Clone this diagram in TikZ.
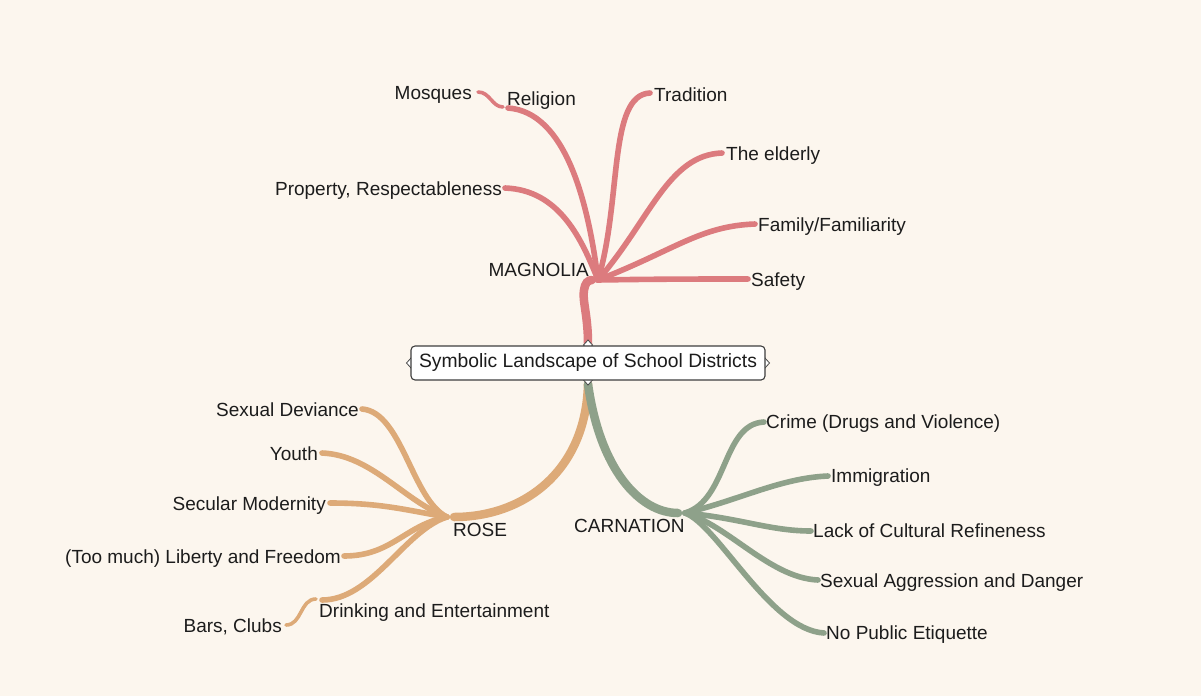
\documentclass[tikz,border=0pt]{standalone}
\usepackage{fontspec}
\setmainfont{Liberation Sans}
\begin{document}
\definecolor{paper}{HTML}{FCF6EE}
\definecolor{magnolia}{HTML}{DC7B7E}
\definecolor{rosetan}{HTML}{DDAA78}
\definecolor{carnation}{HTML}{8EA18A}
\definecolor{ink}{HTML}{1C1C1C}
\begin{tikzpicture}[x=1pt,y=-1pt,
  lbl/.style={inner sep=0pt,text height=13.6pt,text depth=0pt,text=ink,
    font=\fontsize{19}{22}\selectfont},
  trunk/.style={line width=8.5pt,line cap=round},
  twig/.style={line width=5.6pt,line cap=round},
  subtwig/.style={line width=3.6pt,line cap=round},
  handle/.style={draw=ink!80,fill=white,line width=0.8pt},
  rootbox/.style={draw=ink!85,fill=white,rounded corners=4pt,line width=1.1pt,
    minimum width=354pt,minimum height=34pt,inner sep=0pt,text=ink,
    font=\fontsize{19.3}{22}\selectfont}]
\useasboundingbox (0,0) rectangle (1201,696);
\fill[paper] (0,0) rectangle (1201,696);

% ---------- junction and end points ----------
\coordinate (rootTop) at (588,344);
\coordinate (rootBot) at (588,384);
\coordinate (mIn) at (592,280);
\coordinate (mJ) at (598,280);
\coordinate (rIn) at (454,517);
\coordinate (rJ) at (447,517);
\coordinate (cIn) at (678,513);
\coordinate (cJ) at (685,513);

\coordinate (relE) at (508,108);
\coordinate (mosS) at (503,107);
\coordinate (mosE) at (478,92);
\coordinate (proE) at (505,188);
\coordinate (traE) at (650,93);
\coordinate (eldE) at (722,153);
\coordinate (famE) at (755,224);
\coordinate (safE) at (748,279);

\coordinate (devE) at (362,409);
\coordinate (youE) at (322,453);
\coordinate (secE) at (330,503);
\coordinate (libE) at (344,556);
\coordinate (driE) at (322,600);
\coordinate (barS) at (316,599);
\coordinate (barE) at (286,625);

\coordinate (criE) at (764,422);
\coordinate (immE) at (828,476);
\coordinate (lacE) at (811,531);
\coordinate (sexE) at (818,580);
\coordinate (etiE) at (824,633);

% ---------- MAGNOLIA ----------
\begin{scope}[draw=magnolia]
\draw[trunk] (rootTop) .. controls (588,315) and (582,300) .. (584,290)
  .. controls (585,283) and (588,280) .. (mIn);
\draw[twig] (mJ) .. controls (588,200) and (565,112) .. (relE);
\draw[subtwig] (mosS) .. controls (492,107) and (490,92) .. (mosE);
\draw[twig] (mJ) .. controls (582,240) and (560,190) .. (proE);
\draw[twig] (mJ) .. controls (622,200) and (608,95) .. (traE);
\draw[twig] (mJ) .. controls (650,220) and (668,155) .. (eldE);
\draw[twig] (mJ) .. controls (675,250) and (700,226) .. (famE);
\draw[twig] (mJ) .. controls (660,279) and (700,279) .. (safE);
\end{scope}

% ---------- ROSE ----------
\begin{scope}[draw=rosetan]
\draw[trunk] (rootBot) .. controls (586,470) and (525,517) .. (rIn);
\draw[twig] (rJ) .. controls (412,500) and (402,412) .. (devE);
\draw[twig] (rJ) .. controls (405,502) and (372,455) .. (youE);
\draw[twig] (rJ) .. controls (405,510) and (382,503) .. (secE);
\draw[twig] (rJ) .. controls (405,525) and (392,556) .. (libE);
\draw[twig] (rJ) .. controls (405,530) and (372,600) .. (driE);
\draw[subtwig] (barS) .. controls (300,599) and (302,625) .. (barE);
\end{scope}

% ---------- CARNATION ----------
\begin{scope}[draw=carnation]
\draw[trunk] (rootBot) .. controls (600,470) and (640,513) .. (cIn);
\draw[twig] (cJ) .. controls (728,500) and (722,424) .. (criE);
\draw[twig] (cJ) .. controls (740,500) and (780,478) .. (immE);
\draw[twig] (cJ) .. controls (740,518) and (770,531) .. (lacE);
\draw[twig] (cJ) .. controls (728,525) and (770,578) .. (sexE);
\draw[twig] (cJ) .. controls (718,525) and (770,630) .. (etiE);
\end{scope}

% ---------- central topic ----------
\foreach \p in {(588,345),(588,380),(411,363),(765,363)}
  \draw[handle] \p ++(-4.5,0) -- ++(4.5,-5) -- ++(4.5,5) -- ++(-4.5,5) -- cycle;
\node[rootbox] (root) at (588,363) {Symbolic Landscape of School Districts};

% ---------- labels ----------
\node[lbl,anchor=east] (magnolia) at (589,270) {MAGNOLIA};
\node[lbl,anchor=west] (rose) at (453,530) {ROSE};
\node[lbl,anchor=west] (carn) at (574,526) {CARNATION};

\node[lbl,anchor=east] (mosques) at (472,93) {Mosques};
\node[lbl,anchor=west] (religion) at (507,99) {Religion};
\node[lbl,anchor=east] (property) at (502,189) {Property, Respectableness};
\node[lbl,anchor=west] (tradition) at (654,95) {Tradition};
\node[lbl,anchor=west] (elderly) at (726,154) {The elderly};
\node[lbl,anchor=west] (family) at (758,225) {Family/Familiarity};
\node[lbl,anchor=west] (safety) at (751,280) {Safety};

\node[lbl,anchor=east] (deviance) at (359,410) {Sexual Deviance};
\node[lbl,anchor=east] (youth) at (318,454) {Youth};
\node[lbl,anchor=east] (secular) at (326,504) {Secular Modernity};
\node[lbl,anchor=east] (liberty) at (341,557) {(Too much) Liberty and Freedom};
\node[lbl,anchor=west] (drinking) at (319,611) {Drinking and Entertainment};
\node[lbl,anchor=east] (bars) at (282,626) {Bars, Clubs};

\node[lbl,anchor=west] (crime) at (766,422) {Crime (Drugs and Violence)};
\node[lbl,anchor=west] (immig) at (831,476) {Immigration};
\node[lbl,anchor=west] (lack) at (813,531) {Lack of Cultural Refineness};
\node[lbl,anchor=west] (aggr) at (820,581) {Sexual Aggression and Danger};
\node[lbl,anchor=west] (etiq) at (826,633) {No Public Etiquette};
\end{tikzpicture}
\end{document}
